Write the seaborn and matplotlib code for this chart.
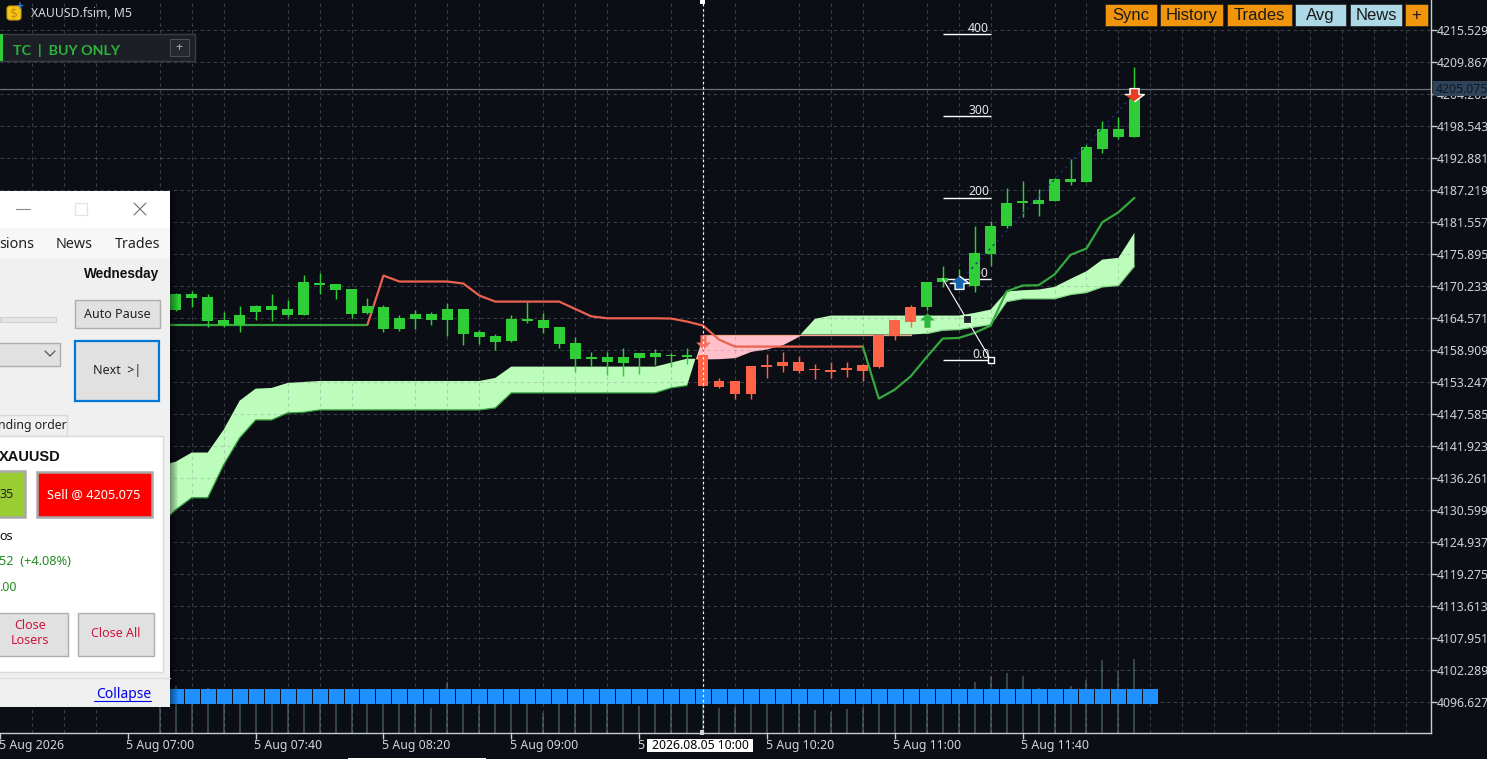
#!/usr/bin/env python3
#XAUUSD M5 chart with trade panel
import numpy as np
import seaborn as sns
import matplotlib.pyplot as plt
from matplotlib.patches import Rectangle, FancyBboxPatch

#bar numbers count from the 10:00 candle
bar_index = list(range(-34, 28))
bar_trend = ['up'] * 34 + ['down'] * 14 + ['up'] * 14

bar_high = [4167.50, 4168.94, 4169.35, 4168.82, 4165.52, 4166.70, 4166.87, 4168.82, 4167.76, 4172.18, 4172.48, 4170.59,
            4169.71, 4168.11, 4166.87, 4165.10, 4165.99, 4165.64, 4167.23, 4166.17, 4162.45, 4161.74, 4165.10,
            4167.41, 4165.46, 4162.98, 4161.21, 4158.55, 4158.55, 4159.26, 4158.38, 4159.09, 4158.38, 4159.26,
            4160.80, 4153.90, 4153.42, 4156.08, 4158.20, 4158.56, 4157.85, 4156.43, 4156.79, 4156.79, 4156.43,
            4161.57, 4164.22, 4166.87, 4170.95, 4173.78, 4173.19, 4180.86, 4181.60, 4187.53, 4188.70, 4187.23,
            4189.30, 4192.54, 4195.20, 4199.27, 4199.97, 4208.82]
bar_low = [4164.50, 4165.70, 4166.40, 4162.86, 4162.86, 4162.10, 4164.22, 4164.04, 4164.75, 4165.10, 4168.82, 4167.94,
           4164.57, 4165.28, 4162.10, 4162.16, 4162.63, 4163.33, 4161.39, 4159.79, 4159.97, 4158.91, 4160.33,
           4163.69, 4161.92, 4159.26, 4155.02, 4156.08, 4154.48, 4154.30, 4154.66, 4156.25, 4155.90, 4156.43,
           4152.42, 4152.18, 4150.24, 4150.24, 4153.95, 4155.02, 4154.84, 4153.78, 4153.95, 4154.13, 4153.42,
           4155.72, 4160.68, 4162.98, 4165.99, 4170.00, 4169.65, 4169.18, 4173.78, 4180.50, 4182.39, 4182.63,
           4185.28, 4187.94, 4188.47, 4193.72, 4196.08, 4196.43]
bar_open = [4165.00, 4165.99, 4168.11, 4164.04, 4163.28, 4163.28, 4165.64, 4165.99, 4165.10, 4165.10, 4170.41, 4169.53,
            4165.28, 4165.46, 4162.63, 4162.63, 4164.40, 4164.22, 4164.22, 4161.74, 4161.21, 4160.33, 4160.50,
            4164.04, 4162.80, 4159.97, 4157.31, 4157.31, 4156.79, 4156.61, 4157.49, 4157.67, 4157.73, 4157.67,
            4157.97, 4153.42, 4153.42, 4156.08, 4156.26, 4156.79, 4156.79, 4155.55, 4155.37, 4155.67, 4156.26,
            4161.57, 4164.22, 4166.52, 4166.52, 4170.83, 4170.90, 4170.12, 4175.90, 4180.74, 4184.81, 4184.75,
            4185.28, 4188.47, 4188.47, 4194.31, 4196.43, 4196.43]
bar_close = [4167.00, 4168.82, 4168.82, 4168.29, 4164.22, 4165.10, 4166.70, 4166.70, 4166.17, 4170.95, 4170.77, 4170.59,
             4169.71, 4166.70, 4166.52, 4164.57, 4165.28, 4165.28, 4166.17, 4166.17, 4162.09, 4161.39, 4164.40,
             4164.40, 4164.22, 4162.98, 4160.15, 4157.67, 4157.67, 4157.67, 4158.38, 4158.38, 4157.90, 4157.97,
             4152.42, 4152.36, 4151.12, 4151.12, 4155.90, 4156.08, 4155.19, 4155.37, 4155.02, 4155.25, 4155.19,
             4155.90, 4161.39, 4163.87, 4170.95, 4171.53, 4171.30, 4176.02, 4180.86, 4184.87, 4185.16, 4185.46,
             4189.00, 4189.00, 4194.66, 4197.85, 4197.85, 4205.11]

#stop line, three runs: green up to -21, red up to 10, green to the end
stop_line = [4163.33] * 14 + [4172.0, 4170.95, 4170.95, 4170.95, 4170.95, 4170.6, 4168.47, 4167.4] + [4167.4] * 4 + \
            [4166.1, 4164.8, 4164.45, 4164.45, 4164.45, 4164.45, 4164.4, 4163.87, 4163.16, 4160.68, 4159.44] + \
            [4159.44] * 8 + \
            [4150.24, 4151.83, 4154.19, 4157.6, 4160.86, 4160.97, 4161.86, 4163.16, 4169.2, 4170.24, 4170.3,
             4172.2, 4175.67, 4176.79, 4181.45, 4183.2, 4185.75]

span_a = [4138.4, 4139.08, 4140.7, 4140.7, 4144.75, 4149.88, 4152.0, 4152.13, 4153.01, 4153.19] + [4153.36] * 11 + \
         [4153.9] + [4155.9] * 10 + [4156.6, 4157.3, 4157.26, 4157.3, 4157.49, 4158.6, 4159.03, 4159.8, 4161.27,
                                     4164.34] + [4164.93] * 9 + \
         [4165.4, 4165.99, 4169.2, 4169.41, 4169.53, 4170.0, 4171.42, 4172.77, 4174.84, 4175.14, 4179.56]
span_b = [4127.8, 4130.6, 4132.7, 4132.7, 4138.55, 4143.3, 4146.46, 4146.46, 4147.7, 4147.82] + [4148.23] * 11 + \
         [4148.58] + [4151.24] * 10 + [4152.13, 4152.54] + [4161.57] * 14 + \
         [4161.74, 4162.33, 4162.45, 4162.92, 4163.33, 4167.4, 4167.9, 4167.9, 4167.9, 4168.64, 4169.0, 4170.0,
          4170.24, 4173.66]

tick_volume = [420, 470, 440, 450, 420, 420, 420, 420, 420, 420, 420, 420, 420, 420, 420, 420, 420, 246, 506, 420, 266,
               420, 420, 420, 200, 420, 420, 420, 420, 420, 270, 420, 420, 420, 420, 246, 260, 420, 420, 420, 420,
               230, 210, 240, 260, 420, 420, 420, 420, 420, 420, 506, 570, 600, 570, 450, 400, 466, 530, 730, 616,
               740]

strip_index = list(range(-34, 29))
strip_low = 4096.2
strip_height = 2.7

price_ticks = [4215.529, 4209.867, 4204.205, 4198.543, 4192.881, 4187.219, 4181.557, 4175.895, 4170.233, 4164.571,
               4158.909, 4153.247, 4147.585, 4141.923, 4136.261, 4130.599, 4124.937, 4119.275, 4113.613, 4107.951,
               4102.289, 4096.627]
time_ticks = [-44, -36, -28, -20, -12, -4, 4, 12, 20]
time_labels = ['5 Aug 2026', '5 Aug 07:00', '5 Aug 07:40', '5 Aug 08:20', '5 Aug 09:00', '5 Aug 09:40',
               '5 Aug 10:20', '5 Aug 11:00', '5 Aug 11:40']

fib_levels = [4157.14, 4171.47, 4185.81, 4200.15, 4214.66]
fib_labels = ['0.0', '100', '200', '300', '400']
fib_from, fib_to = 15, 18
current_price = 4205.075

BG = '#0b0e14'
GREEN = '#2fce37'
RED = '#ff6347'

sns.set_theme(style='dark', rc={'axes.facecolor': BG, 'figure.facecolor': BG})
plt.rcParams['font.family'] = ['Noto Sans', 'DejaVu Sans']

fig = plt.figure(figsize=(14.87, 7.59), dpi=100)
pos = [0, 26 / 759, 1431 / 1487, 733 / 759]

#volume sits under everything, 10 units = 1 pixel
ax_vol = fig.add_axes(pos, zorder=1)
ax = fig.add_axes(pos, zorder=2, sharex=ax_vol)
ax.patch.set_visible(False)
ax_vol.set_ylim(0, 7330)
ax_vol.vlines(bar_index, 0, tick_volume, color='#36484a', lw=1.4)
ax_vol.axis('off')

ax.set_xlim(-43.875, 45.5625)
ax.set_ylim(4091.09, 4220.75)

#grid
ax.set_yticks(price_ticks)
ax.set_yticklabels(['%.3f' % p for p in price_ticks])
ax.set_xticks(time_ticks)
ax.set_xticks(np.arange(-42, 46, 2), minor=True)
ax.set_xticklabels([])
ax.yaxis.tick_right()
ax.tick_params(axis='y', length=4, width=1, color='#c8ccd0', labelcolor='#cfd3d6', labelsize=8.8, pad=0.4, right=True)
ax.tick_params(axis='x', which='major', length=4, width=1, color='#c8ccd0', bottom=True)
ax.tick_params(axis='x', which='minor', length=0)
ax.set_axisbelow('line')
ax.grid(True, axis='y', color='#8a8f94', alpha=0.38, lw=0.8, ls=(0, (3, 3)))
ax.grid(True, axis='x', which='minor', color='#8a8f94', alpha=0.38, lw=0.8, ls=(0, (3, 3)))
ax.grid(False, axis='x', which='major')
for side in ['top', 'left']:
    ax.spines[side].set_visible(False)
for side in ['right', 'bottom']:
    ax.spines[side].set_color('#c8ccd0')
    ax.spines[side].set_linewidth(1)

for t, s in zip(time_ticks, time_labels):
    ax.annotate(s, xy=(t, 0), xycoords=ax.get_xaxis_transform(), xytext=(-1, -9), textcoords='offset points',
                ha='left', va='center', fontsize=8.9, color='#cfd3d6', annotation_clip=False)

#cloud
a = np.array(span_a)
b = np.array(span_b)
ax.fill_between(bar_index, a, b, where=a >= b, interpolate=True, color='#bdfdbb', lw=0, zorder=1)
ax.fill_between(bar_index, a, b, where=a <= b, interpolate=True, color='#ffc0cb', lw=0, zorder=1)
sns.lineplot(x=bar_index[:34], y=span_b[:34], color='#2f9e3a', lw=0.9, ax=ax, zorder=1.6)
sns.lineplot(x=bar_index[34:48], y=span_b[34:48], color='#f4a58a', lw=0.9, ax=ax, zorder=1.6)
sns.lineplot(x=bar_index[48:], y=span_b[48:], color='#7fd684', lw=0.9, ax=ax, zorder=1.6)

#stop line, the jump segment takes the colour of the new run
sns.lineplot(x=bar_index[:14], y=stop_line[:14], color='#35a83e', lw=1.6, ax=ax, zorder=2)
sns.lineplot(x=bar_index[13:45], y=stop_line[13:45], color='#ec6250', lw=1.6, ax=ax, zorder=2)
sns.lineplot(x=bar_index[44:], y=stop_line[44:], color='#35a83e', lw=1.6, ax=ax, zorder=2)

#fibo lines go under the candles
ax.hlines(fib_levels, fib_from, fib_to, color='white', lw=1, zorder=2.2)
for lev, s in zip(fib_levels, fib_labels):
    ax.annotate(s, xy=(fib_to, lev), xytext=(-1, -0.7), textcoords='offset points', ha='right', va='bottom',
                fontsize=8.8, color='#e8e8e8', zorder=2.2)

#candles
colors = [GREEN if t == 'up' else RED for t in bar_trend]
ax.vlines(bar_index, bar_low, bar_high, colors=colors, lw=1.05, zorder=3)
body_low = np.minimum(bar_open, bar_close)
body_high = np.maximum(bar_open, bar_close)
ax.bar(bar_index, body_high - body_low, bottom=body_low, width=0.68, color=colors, lw=0, zorder=3.1)

#fibo trend line and its handles
sns.lineplot(x=[fib_from, fib_to], y=[fib_levels[1], fib_levels[0]], color='white', lw=0.8, ax=ax, zorder=3.3)
ax.scatter([fib_to], [fib_levels[0]], marker='s', s=14, color=BG, edgecolor='white', lw=1, zorder=3.4)
ax.scatter([(fib_from + fib_to) / 2], [(fib_levels[0] + fib_levels[1]) / 2], marker='s', s=14, color='#1c2233',
           edgecolor=BG, lw=0.5, zorder=3.4)

#trade line between the two arrows
sns.lineplot(x=[16, 27], y=[4170.77, 4204.2], color='#13307a', lw=0.9, ls=(0, (2, 3)), ax=ax, zorder=3.5)

up_arrow = [(0, 1), (1, 0), (0.42, 0), (0.42, -1), (-0.42, -1), (-0.42, 0), (-1, 0)]
down_arrow = [(x, -y) for x, y in up_arrow]
wide_up = [(0, 0.75), (1, 0), (0.45, 0), (0.45, -0.6), (-0.45, -0.6), (-0.45, 0), (-1, 0)]
wide_down = [(x, -y) for x, y in wide_up]
ax.scatter([14], [4164.2], marker=up_arrow, s=110, color='#2fb53c', lw=0, zorder=4)
ax.scatter([0], [4160.3], marker=down_arrow, s=110, color='#f4705c', lw=0, zorder=4)
ax.scatter([16], [4170.77], marker=wide_up, s=200, color='#1565b0', edgecolor='white', lw=1, zorder=4)
ax.scatter([27], [4204.2], marker=wide_down, s=200, color='#ea3b24', edgecolor='white', lw=1, zorder=4)

#blue strip, half a pixel off the bar centres so every cell lands on whole pixels
strip_x = np.array(strip_index) + 0.03125
ax.bar(strip_x, [strip_height] * len(strip_index), bottom=strip_low, width=0.9375, color='#1e90ff', lw=0, zorder=4.5)

#price line and crosshair
ax.axhline(current_price, color='#66707c', lw=0.9, zorder=2.5)
ax.axvline(0, color='white', lw=0.85, ls=(0, (2, 2.4)), zorder=4.8)

#everything below is screen furniture, in pixels
ui = fig.add_axes([0, 0, 1, 1], zorder=5)
ui.set_xlim(0, 1487)
ui.set_ylim(759, 0)
ui.axis('off')
ui.patch.set_visible(False)


def box(x0, y0, x1, y1, fc, ec='none', lw=1.0, z=1, alpha=None):
    ui.add_patch(Rectangle((x0, y0), x1 - x0, y1 - y0, facecolor=fc, edgecolor=ec, lw=lw, zorder=z, alpha=alpha))


def label(x, y, s, size=9.0, color='black', ha='left', family='Noto Sans', weight='normal', z=3):
    if family == 'Noto Sans':
        y = y + 1.2
    return ui.text(x, y, s, fontsize=size, color=color, ha=ha, va='center', family=family, weight=weight, zorder=z)


#crosshair tags
box(647, 739, 753, 752, 'white')
label(700, 744.5, '2026.08.05 10:00', size=8.8, ha='center')
box(700, 0, 705, 4, 'white')
box(700, 730, 704, 735, '#cfd3d6')
box(348, 757.6, 486, 759, 'white')

#current price tag
box(1433, 81, 1487, 96, '#2f4359')
label(1435.5, 88, '4205.075', size=8.8, color='#0f1a28')

#buttons top right
for x0, x1, s, fc in [(1105, 1157, 'Sync', '#f0950c'), (1160, 1223, 'History', '#f0950c'),
                      (1227, 1292, 'Trades', '#f0950c'), (1295, 1346, 'Avg', '#add8e6'),
                      (1350, 1402, 'News', '#add8e6'), (1405, 1428, '+', '#f0950c')]:
    box(x0, 3.5, x1, 25.5, fc, ec='#222222', lw=0.5)
    label((x0 + x1) / 2, 15.2, s, size=12, color='#1a1a1a', ha='center', family='Liberation Sans')

#top left title and badge
ui.add_patch(FancyBboxPatch((7, 6), 14, 14, boxstyle='round,pad=0,rounding_size=3', facecolor='#f5c518',
                            edgecolor='#d09a10', lw=0.8, zorder=2))
label(14, 13.5, '$', size=9, color='#c08a10', ha='center', family='DejaVu Sans')
label(20.5, 6, '+', size=7, color='#2f86e0', ha='center', family='DejaVu Sans', weight='bold')
label(31, 12.5, 'XAUUSD.fsim, M5', size=8.8, color='#d5d8da')
box(0, 33.5, 195, 61, '#1c1f26', ec='#3a3d44', lw=1)
box(0, 33.5, 3, 60.5, '#2fce37')
label(13, 50.5, 'TC  |  BUY ONLY', size=10.3, color='#2bb53a', weight='bold', family='Lato')
box(169.5, 38.5, 189, 56, '#25282f', ec='#4a4d54', lw=0.8)
label(179, 46.5, '+', size=9, color='#aab0b5', ha='center')

#shadow the window throws on the chart
for i in range(8):
    box(170, 191, 178 - i, 707, 'black', alpha=0.06, z=0.5)

#window
box(0, 191, 170, 707, '#f0f0f0')
box(0, 191, 170, 228, 'white')
box(0, 228, 170, 258, '#f7f7f7')
ui.plot([16, 30], [209, 209], color='#8a8a8a', lw=0.8, zorder=2)
box(75, 203, 87, 215, 'none', ec='#e3e3e3', lw=0.9)
ui.plot([134, 146], [203, 215], color='#707070', lw=0.8, zorder=2)
ui.plot([134, 146], [215, 203], color='#707070', lw=0.8, zorder=2)
label(-1, 243, 'sions', size=10.3, color='#222222')
label(56, 243, 'News', size=10.3, color='#222222')
label(115, 243, 'Trades', size=10.3, color='#222222')
label(159, 274, 'Wednesday', size=9.8, ha='right', weight='bold', color='#111111', family='Liberation Sans')
box(0, 317, 56, 321.5, '#e4e4e4', ec='#d2d2d2', lw=0.8)
box(74.5, 299.5, 159.5, 327.5, '#e1e1e1', ec='#adadad', lw=1)
label(117, 312.8, 'Auto Pause', size=9, ha='center', color='#222222')
box(-2, 342.5, 59.5, 365.5, '#e1e1e1', ec='#adadad', lw=1)
ui.plot([45, 50, 55], [351, 356, 351], color='#555555', lw=0.9, zorder=2)
box(75, 341, 159, 401, '#e1e1e1', ec='#0078d7', lw=1.6)
label(117, 369.5, 'Next  >|', size=9, ha='center', color='#222222')
box(-2, 414.5, 66.5, 436, '#f0f0f0', ec='#d9d9d9', lw=1)
label(-2, 424.5, 'nding order', size=8.9, color='#222222')
box(-2, 436, 163, 672, 'white', ec='#d9d9d9', lw=1)
label(-1, 457, 'XAUUSD', size=10.5, weight='bold', color='#111111', family='Liberation Sans')
box(-2, 471, 24.5, 517, '#9acd32', ec='#a9a9a9', lw=1.8)
label(0, 493, '35', size=9, color='#222222')
box(36.5, 471.5, 152, 516.5, '#ff0000', ec='#a9a9a9', lw=1.8)
label(94, 493, 'Sell @ 4205.075', size=9.2, color='white', ha='center', z=4)
label(-1, 535, 'os', size=9, color='#111111')
label(-1, 560.5, '52  (+4.08%)', size=9.2, color='#228b22')
label(-1, 586.5, '.00', size=9, color='#228b22')
box(-2, 612.5, 68, 656, '#e1e1e1', ec='#adadad', lw=1)
label(30, 624.5, 'Close', size=9, color='#d0143c', ha='center')
label(30, 639.5, 'Losers', size=9, color='#d0143c', ha='center')
box(77.5, 612.5, 154, 656, '#e1e1e1', ec='#adadad', lw=1)
label(116, 632, 'Close All', size=9, color='#d0143c', ha='center')
ui.plot([0, 170], [677.5, 677.5], color='#dcdcdc', lw=0.8, zorder=2)
t = label(151, 693, 'Collapse', size=10, color='#0000ee', ha='right')
ui.plot([94, 151], [701, 701], color='#0000ee', lw=0.8, zorder=3)

fig.savefig('out.png', dpi=100, facecolor=BG)
plt.close(fig)
